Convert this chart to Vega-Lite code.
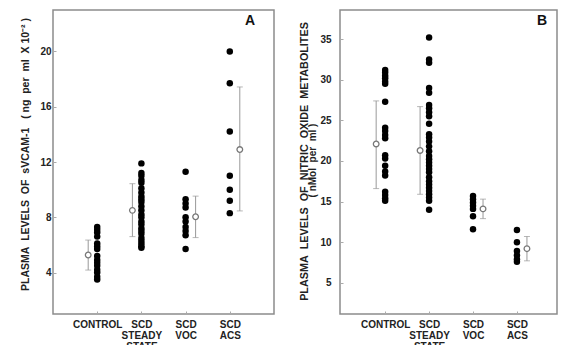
{
  "$schema": "https://vega.github.io/schema/vega-lite/v6.json",
  "autosize": {"type": "pad"},
  "padding": {"left": 19, "top": 9, "right": 0, "bottom": 0},
  "background": "white",
  "bounds": "flush",
  "spacing": 66,
  "config": {
    "font": "Liberation Sans",
    "view": {"stroke": "#8c8c8c", "strokeWidth": 1.5},
    "axis": {"grid": false, "domain": false, "labelFont": "Liberation Sans", "labelFontSize": 10, "labelFontWeight": "bold", "labelColor": "#222", "tickColor": "#aaa", "tickSize": -3, "titleFont": "Liberation Sans", "titleFontSize": 10, "titleFontWeight": "bold", "titleColor": "#222"}
  },
  "datasets": {
    "dotsA": [
      {"group": "CONTROL", "value": 7.3}, {"group": "CONTROL", "value": 7.1}, {"group": "CONTROL", "value": 6.9}, {"group": "CONTROL", "value": 6.6}, {"group": "CONTROL", "value": 6.1}, {"group": "CONTROL", "value": 5.9}, {"group": "CONTROL", "value": 5.7}, {"group": "CONTROL", "value": 5.2}, {"group": "CONTROL", "value": 4.9}, {"group": "CONTROL", "value": 4.7}, {"group": "CONTROL", "value": 4.5}, {"group": "CONTROL", "value": 4.2}, {"group": "CONTROL", "value": 4.0}, {"group": "CONTROL", "value": 3.7}, {"group": "CONTROL", "value": 3.5},
      {"group": "SCD STEADY STATE", "value": 11.9}, {"group": "SCD STEADY STATE", "value": 11.2}, {"group": "SCD STEADY STATE", "value": 11.0}, {"group": "SCD STEADY STATE", "value": 10.7}, {"group": "SCD STEADY STATE", "value": 10.5}, {"group": "SCD STEADY STATE", "value": 10.1}, {"group": "SCD STEADY STATE", "value": 9.8}, {"group": "SCD STEADY STATE", "value": 9.5}, {"group": "SCD STEADY STATE", "value": 9.3}, {"group": "SCD STEADY STATE", "value": 9.1}, {"group": "SCD STEADY STATE", "value": 8.8}, {"group": "SCD STEADY STATE", "value": 8.5}, {"group": "SCD STEADY STATE", "value": 8.2}, {"group": "SCD STEADY STATE", "value": 8.0}, {"group": "SCD STEADY STATE", "value": 7.7}, {"group": "SCD STEADY STATE", "value": 7.5}, {"group": "SCD STEADY STATE", "value": 7.2}, {"group": "SCD STEADY STATE", "value": 7.0}, {"group": "SCD STEADY STATE", "value": 6.8}, {"group": "SCD STEADY STATE", "value": 6.5}, {"group": "SCD STEADY STATE", "value": 6.3}, {"group": "SCD STEADY STATE", "value": 6.1}, {"group": "SCD STEADY STATE", "value": 5.9}, {"group": "SCD STEADY STATE", "value": 5.8},
      {"group": "SCD VOC", "value": 11.3}, {"group": "SCD VOC", "value": 9.3}, {"group": "SCD VOC", "value": 9.0}, {"group": "SCD VOC", "value": 8.7}, {"group": "SCD VOC", "value": 8.0}, {"group": "SCD VOC", "value": 7.7}, {"group": "SCD VOC", "value": 7.3}, {"group": "SCD VOC", "value": 7.0}, {"group": "SCD VOC", "value": 6.7}, {"group": "SCD VOC", "value": 5.7},
      {"group": "SCD ACS", "value": 20.0}, {"group": "SCD ACS", "value": 17.7}, {"group": "SCD ACS", "value": 14.2}, {"group": "SCD ACS", "value": 11.0}, {"group": "SCD ACS", "value": 10.0}, {"group": "SCD ACS", "value": 9.2}, {"group": "SCD ACS", "value": 8.3}
    ],
    "meansA": [
      {"group": "CONTROL", "mean": 5.27, "lo": 4.18, "hi": 6.35},
      {"group": "SCD STEADY STATE", "mean": 8.5, "lo": 6.6, "hi": 10.43},
      {"group": "SCD VOC", "mean": 8.04, "lo": 6.53, "hi": 9.53},
      {"group": "SCD ACS", "mean": 12.9, "lo": 8.46, "hi": 17.43}
    ],
    "dotsB": [
      {"group": "CONTROL", "value": 31.2}, {"group": "CONTROL", "value": 30.9}, {"group": "CONTROL", "value": 30.5}, {"group": "CONTROL", "value": 30.2}, {"group": "CONTROL", "value": 29.8}, {"group": "CONTROL", "value": 29.5}, {"group": "CONTROL", "value": 27.3}, {"group": "CONTROL", "value": 24.1}, {"group": "CONTROL", "value": 23.7}, {"group": "CONTROL", "value": 23.2}, {"group": "CONTROL", "value": 22.8}, {"group": "CONTROL", "value": 20.7}, {"group": "CONTROL", "value": 20.3}, {"group": "CONTROL", "value": 19.4}, {"group": "CONTROL", "value": 18.7}, {"group": "CONTROL", "value": 18.2}, {"group": "CONTROL", "value": 16.2}, {"group": "CONTROL", "value": 15.8}, {"group": "CONTROL", "value": 15.4}, {"group": "CONTROL", "value": 15.1},
      {"group": "SCD STEADY STATE", "value": 35.2}, {"group": "SCD STEADY STATE", "value": 32.5}, {"group": "SCD STEADY STATE", "value": 32.1}, {"group": "SCD STEADY STATE", "value": 29.0}, {"group": "SCD STEADY STATE", "value": 28.4}, {"group": "SCD STEADY STATE", "value": 26.9}, {"group": "SCD STEADY STATE", "value": 26.5}, {"group": "SCD STEADY STATE", "value": 26.0}, {"group": "SCD STEADY STATE", "value": 25.5}, {"group": "SCD STEADY STATE", "value": 24.6}, {"group": "SCD STEADY STATE", "value": 23.3}, {"group": "SCD STEADY STATE", "value": 22.9}, {"group": "SCD STEADY STATE", "value": 22.4}, {"group": "SCD STEADY STATE", "value": 21.8}, {"group": "SCD STEADY STATE", "value": 21.2}, {"group": "SCD STEADY STATE", "value": 20.6}, {"group": "SCD STEADY STATE", "value": 20.2}, {"group": "SCD STEADY STATE", "value": 19.8}, {"group": "SCD STEADY STATE", "value": 19.4}, {"group": "SCD STEADY STATE", "value": 19.0}, {"group": "SCD STEADY STATE", "value": 18.6}, {"group": "SCD STEADY STATE", "value": 18.0}, {"group": "SCD STEADY STATE", "value": 17.5}, {"group": "SCD STEADY STATE", "value": 17.1}, {"group": "SCD STEADY STATE", "value": 16.7}, {"group": "SCD STEADY STATE", "value": 16.3}, {"group": "SCD STEADY STATE", "value": 15.9}, {"group": "SCD STEADY STATE", "value": 15.5}, {"group": "SCD STEADY STATE", "value": 15.1}, {"group": "SCD STEADY STATE", "value": 14.0},
      {"group": "SCD VOC", "value": 15.7}, {"group": "SCD VOC", "value": 15.3}, {"group": "SCD VOC", "value": 14.9}, {"group": "SCD VOC", "value": 14.5}, {"group": "SCD VOC", "value": 14.1}, {"group": "SCD VOC", "value": 13.2}, {"group": "SCD VOC", "value": 11.6},
      {"group": "SCD ACS", "value": 11.5}, {"group": "SCD ACS", "value": 10.0}, {"group": "SCD ACS", "value": 8.9}, {"group": "SCD ACS", "value": 8.4}, {"group": "SCD ACS", "value": 7.9}, {"group": "SCD ACS", "value": 7.6}
    ],
    "meansB": [
      {"group": "CONTROL", "mean": 22.1, "lo": 16.6, "hi": 27.4},
      {"group": "SCD STEADY STATE", "mean": 21.3, "lo": 15.9, "hi": 26.7},
      {"group": "SCD VOC", "mean": 14.1, "lo": 12.9, "hi": 15.3},
      {"group": "SCD ACS", "mean": 9.2, "lo": 7.7, "hi": 10.7}
    ]
  },
  "hconcat": [
    {
      "width": 221,
      "height": 304,
      "title": {"text": "A", "anchor": "end", "orient": "top", "offset": 0, "dx": -19, "dy": 29, "baseline": "alphabetic", "fontSize": 14, "fontWeight": "bold", "font": "Liberation Sans", "color": "#111"},
      "layer": [
        {
          "data": {"name": "dotsA"},
          "mark": {"type": "circle", "size": 42, "color": "#000", "opacity": 1},
          "encoding": {
            "x": {"field": "group", "type": "nominal", "scale": {"type": "point", "padding": 1, "domain": ["CONTROL", "SCD STEADY STATE", "SCD VOC", "SCD ACS"]}, "axis": {"title": null, "labelAngle": 0, "labelExpr": "split(datum.label, ' ')", "labelBaseline": "top", "labelLineHeight": 11, "labelPadding": 8}},
            "y": {"field": "value", "type": "quantitative", "scale": {"domain": [1, 23], "nice": false, "zero": false}, "axis": {"values": [4, 8, 12, 16, 20], "labelPadding": 5, "title": "PLASMA\u00a0\u00a0LEVELS\u00a0\u00a0OF\u00a0\u00a0sVCAM-1\u00a0\u00a0\u00a0(\u00a0ng\u00a0\u00a0per\u00a0\u00a0ml\u00a0\u00a0X\u00a010\u207b\u00b2\u00a0)", "titleFontSize": 10.5, "titleX": -28, "titleY": 144, "titleBaseline": "middle", "titleAlign": "center"}}
          }
        },
        {
          "data": {"name": "meansA"},
          "transform": [{"filter": "datum.group == 'CONTROL' || datum.group == 'SCD STEADY STATE'"}],
          "layer": [
            {"mark": {"type": "rule", "xOffset": -9, "color": "#999", "strokeWidth": 1}, "encoding": {"x": {"field": "group", "type": "nominal"}, "y": {"field": "lo", "type": "quantitative"}, "y2": {"field": "hi"}}},
            {"mark": {"type": "tick", "xOffset": -9, "color": "#999", "size": 6, "thickness": 1}, "encoding": {"x": {"field": "group", "type": "nominal"}, "y": {"field": "lo", "type": "quantitative"}}},
            {"mark": {"type": "tick", "xOffset": -9, "color": "#999", "size": 6, "thickness": 1}, "encoding": {"x": {"field": "group", "type": "nominal"}, "y": {"field": "hi", "type": "quantitative"}}},
            {"mark": {"type": "point", "xOffset": -9, "shape": "circle", "filled": true, "fill": "white", "stroke": "#777", "strokeWidth": 1.3, "size": 32, "opacity": 1}, "encoding": {"x": {"field": "group", "type": "nominal"}, "y": {"field": "mean", "type": "quantitative"}}}
          ]
        },
        {
          "data": {"name": "meansA"},
          "transform": [{"filter": "datum.group == 'SCD VOC' || datum.group == 'SCD ACS'"}],
          "layer": [
            {"mark": {"type": "rule", "xOffset": 10, "color": "#999", "strokeWidth": 1}, "encoding": {"x": {"field": "group", "type": "nominal"}, "y": {"field": "lo", "type": "quantitative"}, "y2": {"field": "hi"}}},
            {"mark": {"type": "tick", "xOffset": 10, "color": "#999", "size": 6, "thickness": 1}, "encoding": {"x": {"field": "group", "type": "nominal"}, "y": {"field": "lo", "type": "quantitative"}}},
            {"mark": {"type": "tick", "xOffset": 10, "color": "#999", "size": 6, "thickness": 1}, "encoding": {"x": {"field": "group", "type": "nominal"}, "y": {"field": "hi", "type": "quantitative"}}},
            {"mark": {"type": "point", "xOffset": 10, "shape": "circle", "filled": true, "fill": "white", "stroke": "#777", "strokeWidth": 1.3, "size": 32, "opacity": 1}, "encoding": {"x": {"field": "group", "type": "nominal"}, "y": {"field": "mean", "type": "quantitative"}}}
          ]
        }
      ]
    },
    {
      "width": 217,
      "height": 304,
      "title": {"text": "B", "anchor": "end", "orient": "top", "offset": 0, "dx": -10, "dy": 29, "baseline": "alphabetic", "fontSize": 14, "fontWeight": "bold", "font": "Liberation Sans", "color": "#111"},
      "resolve": {"axis": {"y": "independent"}},
      "layer": [
        {
          "data": {"name": "dotsB"},
          "mark": {"type": "circle", "size": 42, "color": "#000", "opacity": 1},
          "encoding": {
            "x": {"field": "group", "type": "nominal", "scale": {"type": "point", "padding": 0.97, "align": 0.53, "domain": ["CONTROL", "SCD STEADY STATE", "SCD VOC", "SCD ACS"]}, "axis": {"title": null, "labelAngle": 0, "labelExpr": "split(datum.label, ' ')", "labelBaseline": "top", "labelLineHeight": 11, "labelPadding": 8}},
            "y": {"field": "value", "type": "quantitative", "scale": {"domain": [1.15, 38.6], "nice": false, "zero": false}, "axis": {"orient": "left", "values": [5, 10, 15, 20, 25, 30, 35], "labelPadding": 12, "title": "PLASMA\u00a0\u00a0LEVELS\u00a0\u00a0OF\u00a0\u00a0NITRIC\u00a0\u00a0OXIDE\u00a0\u00a0METABOLITES", "titleFontSize": 10.8, "titleX": -36, "titleY": 151, "titleBaseline": "middle", "titleAlign": "center"}}
          }
        },
        {
          "data": {"name": "meansB"},
          "transform": [{"filter": "datum.group == 'CONTROL' || datum.group == 'SCD STEADY STATE'"}],
          "layer": [
            {"mark": {"type": "rule", "xOffset": -9, "color": "#999", "strokeWidth": 1}, "encoding": {"x": {"field": "group", "type": "nominal"}, "y": {"field": "lo", "type": "quantitative", "axis": {"orient": "left", "labels": false, "ticks": false, "domain": false, "title": "(\u00a0nMol\u00a0\u00a0per\u00a0\u00a0ml\u00a0)", "titleFontSize": 10, "titleX": -28, "titleY": 150, "titleBaseline": "middle", "titleAlign": "center"}}, "y2": {"field": "hi"}}},
            {"mark": {"type": "tick", "xOffset": -9, "color": "#999", "size": 6, "thickness": 1}, "encoding": {"x": {"field": "group", "type": "nominal"}, "y": {"field": "lo", "type": "quantitative", "axis": {"orient": "left", "labels": false, "ticks": false, "domain": false, "title": "(\u00a0nMol\u00a0\u00a0per\u00a0\u00a0ml\u00a0)", "titleFontSize": 10, "titleX": -28, "titleY": 150, "titleBaseline": "middle", "titleAlign": "center"}}}},
            {"mark": {"type": "tick", "xOffset": -9, "color": "#999", "size": 6, "thickness": 1}, "encoding": {"x": {"field": "group", "type": "nominal"}, "y": {"field": "hi", "type": "quantitative", "axis": {"orient": "left", "labels": false, "ticks": false, "domain": false, "title": "(\u00a0nMol\u00a0\u00a0per\u00a0\u00a0ml\u00a0)", "titleFontSize": 10, "titleX": -28, "titleY": 150, "titleBaseline": "middle", "titleAlign": "center"}}}},
            {"mark": {"type": "point", "xOffset": -9, "shape": "circle", "filled": true, "fill": "white", "stroke": "#777", "strokeWidth": 1.3, "size": 32, "opacity": 1}, "encoding": {"x": {"field": "group", "type": "nominal"}, "y": {"field": "mean", "type": "quantitative", "axis": {"orient": "left", "labels": false, "ticks": false, "domain": false, "title": "(\u00a0nMol\u00a0\u00a0per\u00a0\u00a0ml\u00a0)", "titleFontSize": 10, "titleX": -28, "titleY": 150, "titleBaseline": "middle", "titleAlign": "center"}}}}
          ]
        },
        {
          "data": {"name": "meansB"},
          "transform": [{"filter": "datum.group == 'SCD VOC' || datum.group == 'SCD ACS'"}],
          "layer": [
            {"mark": {"type": "rule", "xOffset": 10, "color": "#999", "strokeWidth": 1}, "encoding": {"x": {"field": "group", "type": "nominal"}, "y": {"field": "lo", "type": "quantitative", "axis": null}, "y2": {"field": "hi"}}},
            {"mark": {"type": "tick", "xOffset": 10, "color": "#999", "size": 6, "thickness": 1}, "encoding": {"x": {"field": "group", "type": "nominal"}, "y": {"field": "lo", "type": "quantitative", "axis": null}}},
            {"mark": {"type": "tick", "xOffset": 10, "color": "#999", "size": 6, "thickness": 1}, "encoding": {"x": {"field": "group", "type": "nominal"}, "y": {"field": "hi", "type": "quantitative", "axis": null}}},
            {"mark": {"type": "point", "xOffset": 10, "shape": "circle", "filled": true, "fill": "white", "stroke": "#777", "strokeWidth": 1.3, "size": 32, "opacity": 1}, "encoding": {"x": {"field": "group", "type": "nominal"}, "y": {"field": "mean", "type": "quantitative", "axis": null}}}
          ]
        }
      ]
    }
  ]
}
